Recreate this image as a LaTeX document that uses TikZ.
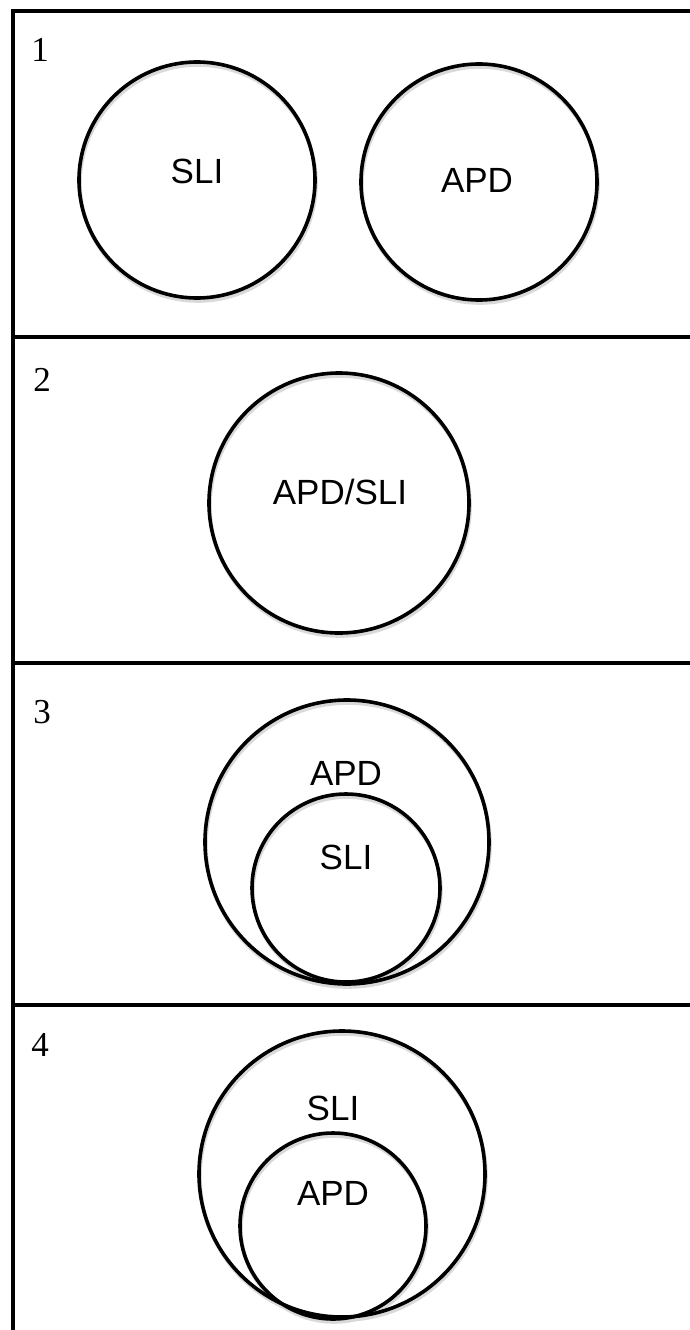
\documentclass[tikz,border=0pt]{standalone}
\usepackage{fontspec}
\setmainfont{Liberation Serif}
\newfontfamily\labelfont{Liberation Sans}
\begin{document}
\begin{tikzpicture}[x=1pt,y=-1pt,
  frame/.style={line width=4.5pt,line cap=rect},
  ring/.style={circle,draw,line width=3.6pt,inner sep=0pt},
  shadowring/.style={circle,draw=black!15,line width=3.6pt,inner sep=0pt},
  lbl/.style={font=\labelfont\fontsize{35}{38}\selectfont,inner sep=0pt},
  num/.style={font=\fontsize{35}{38}\selectfont,inner sep=0pt}]
\useasboundingbox (0,0) rectangle (690,1330);
% frame
\coordinate (tl) at (13,11);
\coordinate (tr) at (692,11);
\coordinate (bl) at (13,1332);
\coordinate (d1l) at (13,337);
\coordinate (d1r) at (692,337);
\coordinate (d2l) at (13,663);
\coordinate (d2r) at (692,663);
\coordinate (d3l) at (13,1005);
\coordinate (d3r) at (692,1005);
\draw[frame] (tr) -- (tl) -- (bl);
\draw[frame] (d1l) -- (d1r);
\draw[frame] (d2l) -- (d2r);
\draw[frame] (d3l) -- (d3r);
% numbers
\node[num] (n1) at (40,50) {1};
\node[num] (n2) at (42,380) {2};
\node[num] (n3) at (42,712) {3};
\node[num] (n4) at (40,1045) {4};
% shadows
\foreach \x/\y/\r in {197/180/118, 479/182/118, 339/503/130, 347/842/142, 346/888/94, 342/1174/143, 333/1226/93}
  \node[shadowring,minimum size=2*\r pt] at (\x+1,\y+3) {};
% circles
\node[ring,minimum size=236pt] (c1a) at (197,180) {};
\node[ring,minimum size=236pt] (c1b) at (479,182) {};
\node[ring,minimum size=260pt] (c2) at (339,503) {};
\node[ring,minimum size=284pt] (c3o) at (347,842) {};
\node[ring,minimum size=188pt] (c3i) at (346,888) {};
\node[ring,minimum size=286pt] (c4o) at (342,1174) {};
\node[ring,minimum size=186pt] (c4i) at (333,1226) {};
% labels
\node[lbl] (t1a) at (197,171) {SLI};
\node[lbl] (t1b) at (477,180) {APD};
\node[lbl] (t2) at (340,492) {APD/SLI};
\node[lbl] (t3a) at (346,773) {APD};
\node[lbl] (t3b) at (346,857) {SLI};
\node[lbl] (t4a) at (333,1108) {SLI};
\node[lbl] (t4b) at (333,1193) {APD};
\end{tikzpicture}
\end{document}
